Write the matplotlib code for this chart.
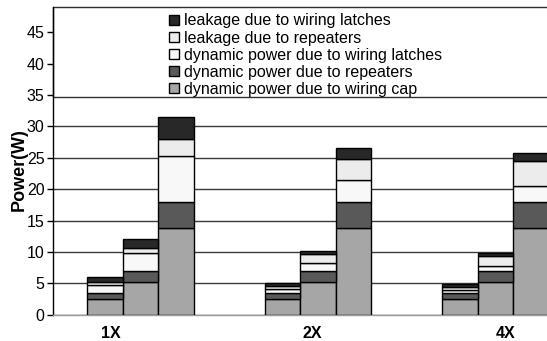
import matplotlib
matplotlib.use("Agg")
import matplotlib.pyplot as plt
from matplotlib.patches import Rectangle
import numpy as np

plt.rcParams['font.family'] = ['Liberation Sans', 'DejaVu Sans']

# Categories (wire scaling) and three bars per category
groups = ["1X", "2X", "4X"]

# Stacked components, bottom to top; one value per bar (3 bars x 3 groups)
series_names = [
    "dynamic power due to wiring cap",
    "dynamic power due to repeaters",
    "dynamic power due to wiring latches",
    "leakage due to repeaters",
    "leakage due to wiring latches",
]
dyn_wiring_cap = [2.56, 5.27, 13.78, 2.56, 5.27, 13.78, 2.56, 5.27, 13.78]
dyn_repeaters = [0.85, 1.70, 4.24, 0.85, 1.70, 4.24, 0.85, 1.70, 4.24]
dyn_latches = [1.33, 2.83, 7.18, 0.64, 1.33, 3.46, 0.53, 0.85, 2.51]
leak_repeaters = [0.53, 0.90, 2.77, 0.53, 1.33, 3.30, 0.43, 1.54, 3.98]
leak_latches = [0.79, 1.37, 3.51, 0.52, 0.53, 1.75, 0.53, 0.53, 1.23]
y_ticks = [0, 5, 10, 15, 20, 25, 30, 35, 40, 45]

series = [dyn_wiring_cap, dyn_repeaters, dyn_latches, leak_repeaters, leak_latches]
colors = ["#a6a6a6", "#595959", "#f8f8f8", "#ececec", "#282828"]

fig = plt.figure(figsize=(5.47, 3.41), dpi=100)
ax = fig.add_axes([53 / 547, 26.3 / 341, (552.5 - 53) / 547, 307.7 / 341])

width = 0.2
offsets = np.array([-width, 0.0, width])
xpos = np.concatenate([g + offsets for g in range(len(groups))])

bottom = np.zeros(len(xpos))
for vals, col, name in zip(series, colors, series_names):
    vals = np.asarray(vals)
    ax.bar(xpos, vals, width=width, bottom=bottom, color=col,
           edgecolor="black", linewidth=1.0, label=name, zorder=3)
    bottom += vals

ymax = 49.0
ax.set_ylim(0, ymax)
ax.set_xlim(-0.493, 2.321)

ax.set_yticks(y_ticks)
ax.tick_params(axis="y", direction="out", length=4, width=1, pad=2,
               labelsize=11.5, colors="black")
ax.yaxis.grid(True, color="#3a3a3a", linewidth=1.0)
ax.set_axisbelow(True)

# category labels sit slightly off the bar-cluster centres
label_shift = [-0.166, -0.034, 0.054]
ax.set_xticks([g + s for g, s in zip(range(len(groups)), label_shift)])
ax.set_xticklabels(groups, fontweight="bold", fontsize=11.5)
ax.tick_params(axis="x", length=0, pad=8)

for side in ("top", "right"):
    ax.spines[side].set_visible(False)
ax.spines["left"].set_color("black")
ax.spines["left"].set_linewidth(1.0)
ax.spines["bottom"].set_color("#9a9a9a")
ax.spines["bottom"].set_linewidth(1.0)

# boxed legend band across the top of the plot area
band_bottom = 34.6
ax.add_patch(Rectangle((0, band_bottom / ymax), 1.0, 1 - band_bottom / ymax,
                       transform=ax.transAxes, facecolor="white",
                       edgecolor="#303030", linewidth=1.0, zorder=1.5,
                       clip_on=False))

handles, labels = ax.get_legend_handles_labels()
leg = ax.legend(handles[::-1], labels[::-1], loc="upper left",
                bbox_to_anchor=(169 / 547, 1 - 13.5 / 341),
                bbox_transform=fig.transFigure, frameon=False, fontsize=11.5,
                handlelength=0.6, handleheight=0.6, handletextpad=0.35,
                labelspacing=0.13, borderpad=0, borderaxespad=0)
leg.set_zorder(5)

ax.text(19 / 547, 1 - 170 / 341, "Power(W)", transform=fig.transFigure,
        rotation=90, ha="center", va="center", fontsize=13, fontweight="bold")

fig.savefig("out.png", dpi=100)
